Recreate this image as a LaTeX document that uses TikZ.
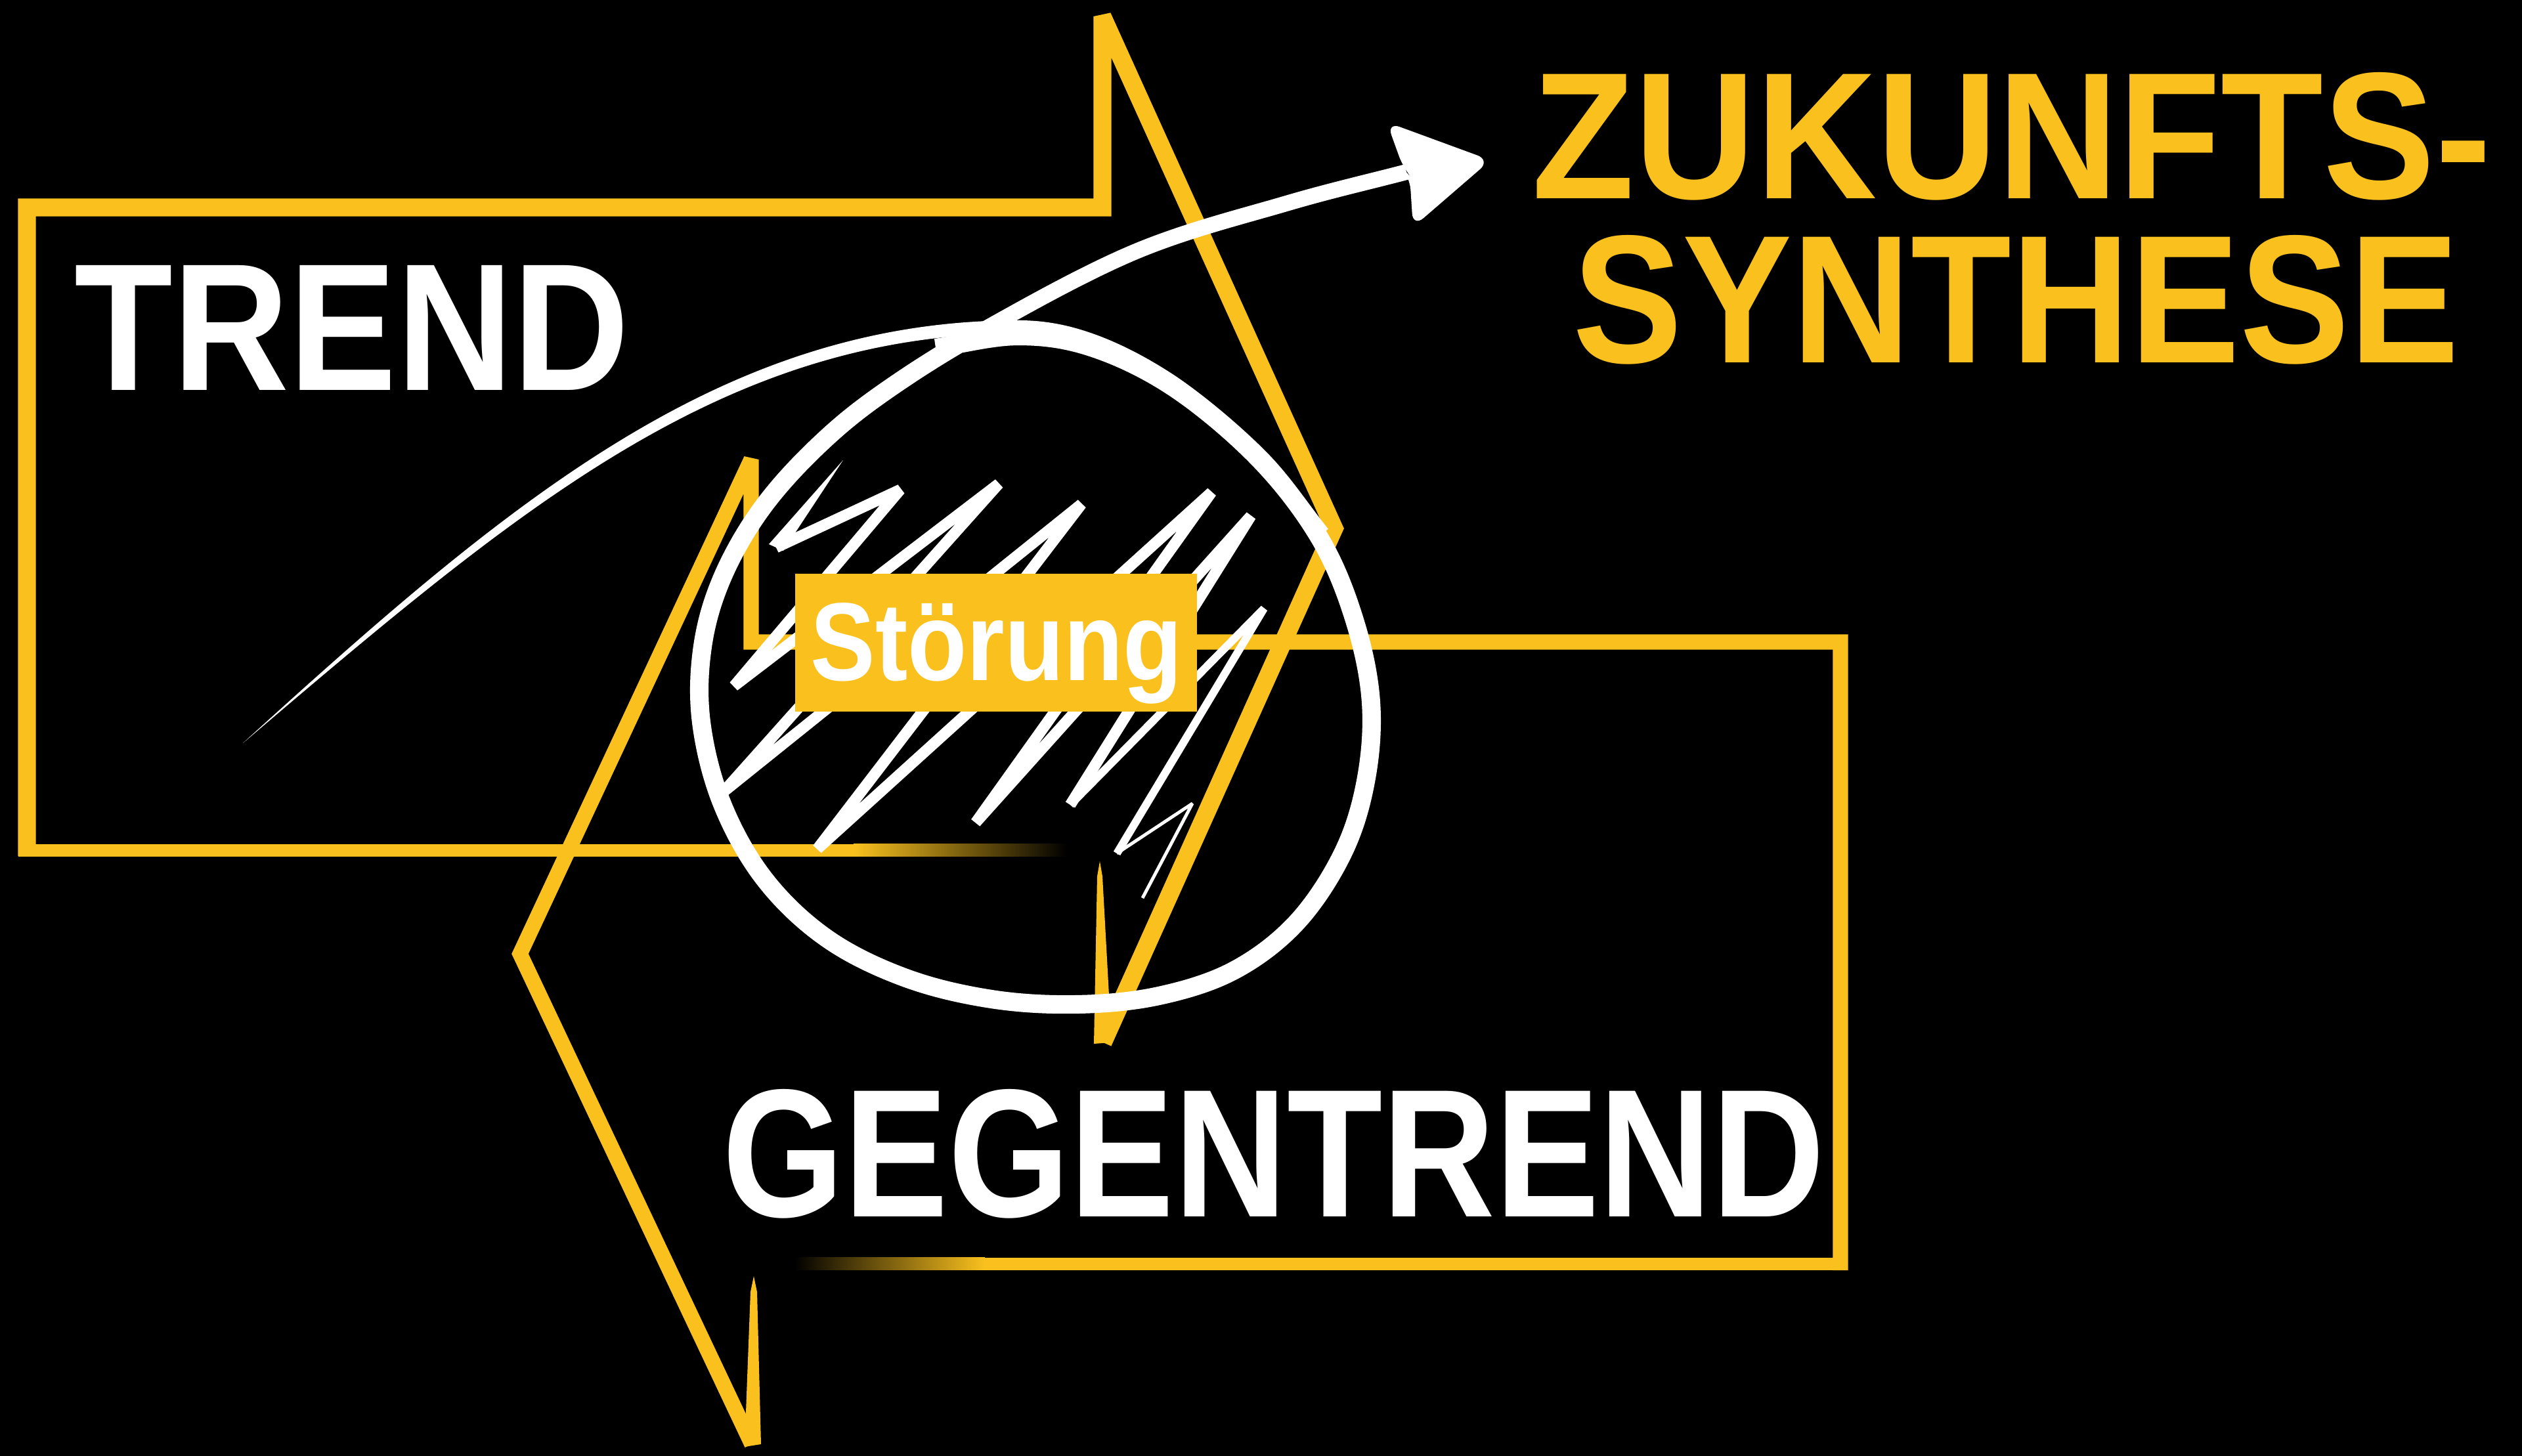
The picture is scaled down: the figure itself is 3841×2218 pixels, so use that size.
\documentclass[tikz,border=0pt]{standalone}
\usepackage{fontspec}
\setmainfont{Liberation Sans}
\definecolor{gy}{RGB}{250,193,30}
\begin{document}
\begin{tikzpicture}[x=0.01cm,y=-0.01cm,
  ytrend/.style={draw=gy,line width=7.7pt,line join=miter,miter limit=2},
  ygegen/.style={draw=gy,line width=6.6pt,line join=miter,miter limit=3},
  ybase/.style={draw=gy,line width=5.4pt},
  wring/.style={draw=white,line width=8pt},
  wshaft/.style={draw=white,line width=6.8pt},
  wzig/.style={draw=white,line width=4.8pt,line join=bevel},
  lbl/.style={anchor=base west,inner sep=0pt,font=\bfseries}]
\fill[black] (0,0) rectangle (3841,2218);
\useasboundingbox (0,0) rectangle (3841,2218);

% ---------- TREND arrow (yellow) ----------
\draw[ytrend] (41,1304) -- (41,316) -- (1679,316) -- (1679,25) -- (2032,805) -- (1680,1588);
\draw[ybase] (28,1295) -- (1300,1295);
\shade[left color=gy,right color=black] (1300,1285.5) rectangle (1625,1304.5);
\fill[gy] (1666,1590) -- (1671,1335) -- (1675,1312) -- (1679,1335) -- (1693,1588) -- cycle;

% ---------- GEGENTREND arrow (yellow) ----------
\draw[ygegen] (2803,1935) -- (2803,978) -- (1144,978) -- (1144,700) -- (792,1453) -- (1145,2200);
\draw[ybase] (2814,1925) -- (1500,1925);
\shade[left color=black,right color=gy] (1210,1915.5) rectangle (1500,1934.5);
\fill[gy] (1134,2204) -- (1143,1968) -- (1148,1944) -- (1153,1968) -- (1159,2200) -- cycle;

% ---------- white tail curve (tapered) ----------
\fill[white] (370,1132) .. controls (776.5,762.2) and (1101,488) .. (1551,488)
  -- (1551,508) .. controls (1101,508) and (788.5,775.8) .. (370,1132) -- cycle;
\draw[white,line width=5.7pt] (1551,498)
  .. controls (1588,498) and (1622.8,504) .. (1662,518)
  .. controls (1701.2,532) and (1742.7,553.3) .. (1786,582)
  .. controls (1829,611.3) and (1881.8,655.7) .. (1920,694)
  .. controls (1958.2,732.3) and (1983.3,772.7) .. (2015,812);

% ---------- zigzag ----------
\fill[white] (1284,701) -- (1171,829) -- (1193,839) -- cycle;
\draw[wzig] (1182,834) -- (1371,746) -- (1118,1045) -- (1521,737) -- (1102,1206) -- (1647,768)
  -- (1245,1293) -- (1845,750) -- (1486,1253) -- (1905,786) -- (1630,1226);
\draw[white,line width=3.4pt,line join=bevel] (1630,1226) -- (1925,927) -- (1701,1300);
\draw[white,line width=1.4pt,line join=bevel] (1701,1300) -- (1816,1224) -- (1740,1368);

% ---------- circle + arrow shaft ----------
\draw[wring] (1425,530)
  .. controls (1467,524) and (1511,512) .. (1551,512)
  .. controls (1591,512) and (1625.2,516.7) .. (1665,530)
  .. controls (1704.8,543.3) and (1747.8,563.7) .. (1790,592)
  .. controls (1832.2,620.3) and (1881.3,662) .. (1918,700)
  .. controls (1954.7,738) and (1985.8,779.2) .. (2010,820)
  .. controls (2034.2,860.8) and (2050,903.3) .. (2063,945)
  .. controls (2076,986.7) and (2085.2,1029.2) .. (2088,1070)
  .. controls (2090.8,1110.8) and (2087.2,1151.7) .. (2080,1190)
  .. controls (2072.8,1228.3) and (2062.5,1264.2) .. (2045,1300)
  .. controls (2027.5,1335.8) and (2002.5,1375.3) .. (1975,1405)
  .. controls (1947.5,1434.7) and (1915,1459.3) .. (1880,1478)
  .. controls (1845,1496.7) and (1805,1508.3) .. (1765,1517)
  .. controls (1725,1525.7) and (1682.5,1529.2) .. (1640,1530)
  .. controls (1597.5,1530.8) and (1553.3,1528.7) .. (1510,1522)
  .. controls (1466.7,1515.3) and (1421.7,1505.3) .. (1380,1490)
  .. controls (1338.3,1474.7) and (1295.8,1455) .. (1260,1430)
  .. controls (1224.2,1405) and (1191.7,1374.2) .. (1165,1340)
  .. controls (1138.3,1305.8) and (1116.2,1265) .. (1100,1225)
  .. controls (1083.8,1185) and (1073,1140) .. (1068,1100)
  .. controls (1063,1060) and (1064.7,1021.7) .. (1070,985)
  .. controls (1075.3,948.3) and (1085,915) .. (1100,880)
  .. controls (1115,845) and (1135.8,808.3) .. (1160,775)
  .. controls (1184.2,741.7) and (1214.3,709.3) .. (1245,680)
  .. controls (1275.7,650.7) and (1302,628.5) .. (1344,599)
  .. controls (1386,569.5) and (1432.7,539) .. (1497,503);
\draw[wshaft] (1344,599)
  .. controls (1386,569.5) and (1432.7,539) .. (1497,503)
  .. controls (1561.3,467) and (1653,415.2) .. (1730,383)
  .. controls (1807,350.8) and (1890.3,330.2) .. (1959,310)
  .. controls (2027.7,289.8) and (2081,278) .. (2142,262);
\fill[white,rounded corners=6pt] (2112,186) -- (2270,244) -- (2152,346) -- (2147,268) -- (2138,258) -- cycle;

% ---------- Stoerung box ----------
\node[fill=gy,inner sep=0pt,minimum width=6.12cm,minimum height=2.10cm] (stbox) at (1517,979) {};
\node[lbl,text=white] (stoerung) at (1234,1036) {\resizebox{5.66cm}{1.18cm}{Störung}};

% ---------- labels ----------
\node[lbl,text=white] (trend) at (113,594) {\resizebox{8.44cm}{1.90cm}{TREND}};
\node[lbl,text=white] (gegen) at (1100,1853) {\resizebox{16.77cm}{1.94cm}{GEGENTREND}};
\node[lbl,text=gy] (zuk) at (2333,302) {\resizebox{14.59cm}{1.92cm}{ZUKUNFTS-}};
\node[lbl,text=gy] (syn) at (2395,552) {\resizebox{13.48cm}{1.94cm}{SYNTHESE}};
\end{tikzpicture}
\end{document}
